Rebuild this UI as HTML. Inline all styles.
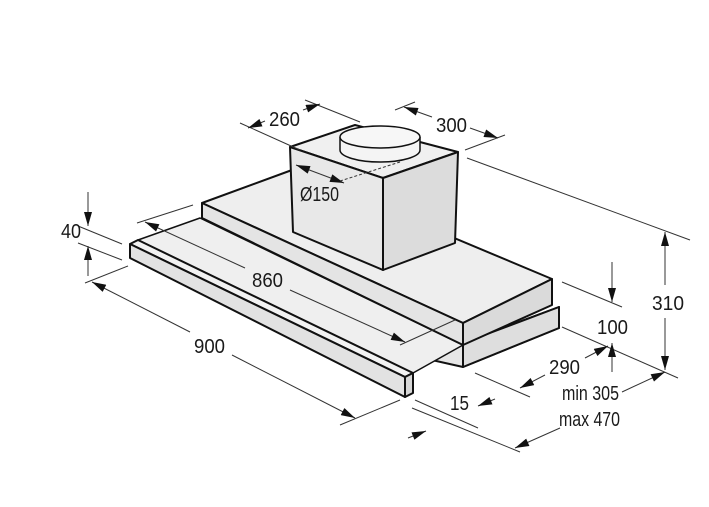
<!DOCTYPE html>
<html><head><meta charset="utf-8"><style>
html,body{margin:0;padding:0;background:#fff;}
svg{display:block}
text{font-family:"Liberation Sans",sans-serif;font-size:20px;fill:#1a1a1a;}
</style></head><body>
<svg width="709" height="507" viewBox="0 0 709 507" xmlns="http://www.w3.org/2000/svg">
<defs>
<marker id="a" viewBox="0 0 14 8" refX="14" refY="4" markerWidth="15" markerHeight="8" orient="auto" markerUnits="userSpaceOnUse"><path d="M0,0 L14,4 L0,8 Z" fill="#111"/></marker>
</defs>
<rect width="709" height="507" fill="#fff"/>
<g stroke="#111" stroke-width="2" stroke-linejoin="round" fill="#ececec">
<polygon points="365,320 463,343 559,307 559,328 463,367 365,345" fill="#e6e6e6"/>
<polygon points="463,343 559,307 559,328 463,367" fill="#dedede"/>
<polygon points="138,240 200,218 463,345 413,373" fill="#efefef" stroke-width="1.5"/>
<polygon points="202,203 292,170 552,279 463,323" fill="#eeeeee"/>
<polygon points="202,203 463,323 463,345 202,218" fill="#e4e4e4"/>
<polygon points="463,323 552,279 552,305 463,345" fill="#dadada"/>
<polygon points="130,244 138,240 413,373 405,377" fill="#f2f2f2"/>
<polygon points="130,244 405,377 405,397 130,258" fill="#e2e2e2"/>
<polygon points="405,377 413,373 413,393 405,397" fill="#d6d6d6"/>
<polygon points="290,147 355,125 458,152 383,178" fill="#f0f0f0"/>
<polygon points="290,147 383,178 383,270 293,232" fill="#e8e8e8"/>
<polygon points="383,178 458,152 455,243 383,270" fill="#dcdcdc"/>
<path d="M340,137 L340,150 A40,12 0 0 0 420,150 L420,137" fill="#f4f4f4" stroke-width="1.5"/>
<ellipse cx="380" cy="137" rx="40" ry="11" fill="#f7f7f7" stroke-width="1.5"/>
</g>
<g stroke="#333" stroke-width="1" fill="none">
<line x1="240" y1="123" x2="300" y2="150"/>
<line x1="305" y1="100" x2="360" y2="122"/>
<line x1="265" y1="121" x2="248" y2="128" marker-end="url(#a)"/>
<line x1="303" y1="110" x2="320" y2="104" marker-end="url(#a)"/>
<line x1="395" y1="110" x2="415" y2="102"/>
<line x1="465" y1="150" x2="505" y2="135"/>
<line x1="432" y1="117" x2="404" y2="107" marker-end="url(#a)"/>
<line x1="470" y1="128" x2="498" y2="138" marker-end="url(#a)"/>
<line x1="467" y1="158" x2="690" y2="240"/>
<line x1="320" y1="174" x2="296" y2="165" marker-end="url(#a)"/>
<line x1="320" y1="174" x2="344" y2="183" marker-end="url(#a)"/>
<line x1="340" y1="181" x2="400" y2="162" stroke-dasharray="3,2"/>
<line x1="88" y1="192" x2="88" y2="226" marker-end="url(#a)"/>
<line x1="88" y1="276" x2="88" y2="246" marker-end="url(#a)"/>
<line x1="78" y1="226" x2="122" y2="244"/>
<line x1="78" y1="243" x2="122" y2="260"/>
<line x1="137" y1="223" x2="193" y2="205"/>
<line x1="245" y1="268" x2="145" y2="222" marker-end="url(#a)"/>
<line x1="290" y1="290" x2="405" y2="342" marker-end="url(#a)"/>
<line x1="400" y1="345" x2="455" y2="320"/>
<line x1="85" y1="283" x2="128" y2="266"/>
<line x1="190" y1="332" x2="92" y2="282" marker-end="url(#a)"/>
<line x1="232" y1="355" x2="355" y2="418" marker-end="url(#a)"/>
<line x1="340" y1="425" x2="400" y2="400"/>
<line x1="665" y1="285" x2="665" y2="232" marker-end="url(#a)"/>
<line x1="665" y1="318" x2="665" y2="370" marker-end="url(#a)"/>
<line x1="562" y1="327" x2="678" y2="378"/>
<line x1="612" y1="262" x2="612" y2="302" marker-end="url(#a)"/>
<line x1="612" y1="372" x2="612" y2="343" marker-end="url(#a)"/>
<line x1="562" y1="282" x2="622" y2="307"/>
<line x1="475" y1="373" x2="530" y2="397"/>
<line x1="545" y1="375" x2="520" y2="388" marker-end="url(#a)"/>
<line x1="585" y1="358" x2="608" y2="346" marker-end="url(#a)"/>
<line x1="622" y1="392" x2="665" y2="372" marker-end="url(#a)"/>
<line x1="560" y1="428" x2="515" y2="448" marker-end="url(#a)"/>
<line x1="415" y1="400" x2="478" y2="428"/>
<line x1="412" y1="408" x2="520" y2="452"/>
<line x1="408" y1="438" x2="426" y2="431" marker-end="url(#a)"/>
<line x1="495" y1="399" x2="478" y2="406" marker-end="url(#a)"/>
</g>
<g>
<text x="269" y="126" textLength="31" lengthAdjust="spacingAndGlyphs">260</text>
<text x="436" y="132" textLength="31" lengthAdjust="spacingAndGlyphs">300</text>
<text x="300" y="201" textLength="39" lengthAdjust="spacingAndGlyphs">Ø150</text>
<text x="61" y="238" textLength="20" lengthAdjust="spacingAndGlyphs">40</text>
<text x="252" y="287" textLength="31" lengthAdjust="spacingAndGlyphs">860</text>
<text x="194" y="353" textLength="31" lengthAdjust="spacingAndGlyphs">900</text>
<text x="652" y="310" textLength="32" lengthAdjust="spacingAndGlyphs">310</text>
<text x="597" y="334" textLength="31" lengthAdjust="spacingAndGlyphs">100</text>
<text x="549" y="374" textLength="31" lengthAdjust="spacingAndGlyphs">290</text>
<text x="562" y="400" textLength="57" lengthAdjust="spacingAndGlyphs">min 305</text>
<text x="559" y="426" textLength="61" lengthAdjust="spacingAndGlyphs">max 470</text>
<text x="450" y="410" textLength="19" lengthAdjust="spacingAndGlyphs">15</text>
</g>
</svg>
</body></html>
